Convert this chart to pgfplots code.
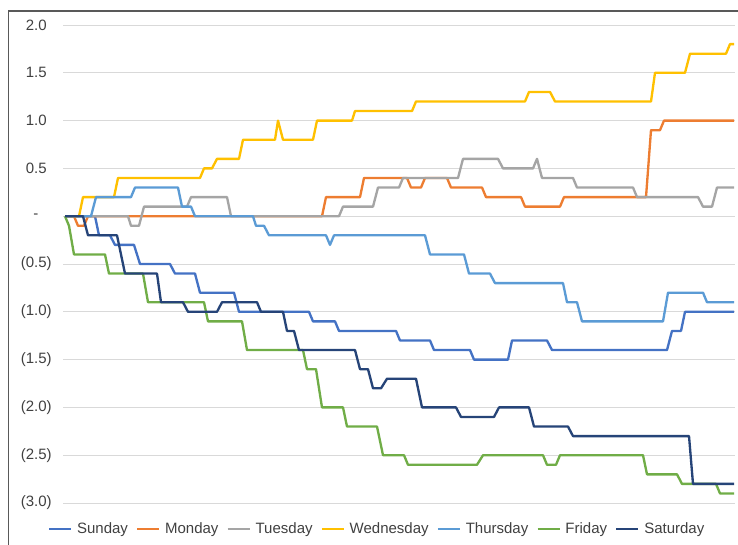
\documentclass[border=0pt]{standalone}
\usepackage{pgfplots}
\pgfplotsset{compat=1.18}
\usepackage{fontspec}
\setmainfont{Liberation Sans}

\definecolor{sunC}{HTML}{4472C4}
\definecolor{monC}{HTML}{ED7D31}
\definecolor{tueC}{HTML}{A5A5A5}
\definecolor{wedC}{HTML}{FFC000}
\definecolor{thuC}{HTML}{5B9BD5}
\definecolor{friC}{HTML}{70AD47}
\definecolor{satC}{HTML}{264478}
\definecolor{gridC}{HTML}{D9D9D9}
\definecolor{txtC}{HTML}{404040}
\definecolor{frameC}{HTML}{595959}

\begin{document}
\begin{tikzpicture}
\begin{axis}[
  at={(47.25pt,-377.25pt)}, anchor=south west,
  scale only axis, width=504pt, height=358.5pt,
  xmin=-2, xmax=670, ymin=-3, ymax=2,
  axis line style={draw=none},
  xtick=\empty,
  ytick={-3,-2.5,-2,-1.5,-1,-0.5,0,0.5,1,1.5,2},
  yticklabels={(3.0),(2.5),(2.0),(1.5),(1.0),(0.5),{-\hphantom{0)}},{0.5\hphantom{)}},{1.0\hphantom{)}},{1.5\hphantom{)}},{2.0\hphantom{)}}},
  ymajorgrids,
  major grid style={color=gridC, line width=0.75pt},
  major tick length=0pt,
  tick style={draw=none},
  /pgf/number format/assume math mode=true,
  yticklabel style={anchor=east, inner sep=0pt, xshift=-8.25pt, text=txtC,
    font=\fontsize{11.25}{13.5}\selectfont},
  every axis plot/.append style={line width=1.75pt, line join=round, mark=none},
  legend columns=7,
  legend style={at={(0.466,-0.054)}, anchor=center, draw=none, fill=none,
    text=txtC, font=\fontsize{11.25}{13.5}\selectfont,
    nodes={inner sep=0pt},
    /tikz/every odd column/.append style={column sep=3.6pt},
    /tikz/every even column/.append style={column sep=6pt}},
  legend image code/.code={\draw[#1, line width=1.75pt] (0pt,0pt) -- (16.5pt,0pt);},
]
% Sunday
\addplot[sunC] coordinates {(0,0)(30,0)(34,-0.2)(45,-0.2)(50,-0.3)(69,-0.3)(75,-0.5)(105,-0.5)(110,-0.6)(130,-0.6)(135,-0.8)(169,-0.8)(174,-1.0)(244,-1.0)(248,-1.1)(270,-1.1)(274,-1.2)(331,-1.2)(335,-1.3)(365,-1.3)(369,-1.4)(405,-1.4)(409,-1.5)(443,-1.5)(447,-1.3)(482,-1.3)(487,-1.4)(602,-1.4)(607,-1.2)(616,-1.2)(620,-1.0)(669,-1.0)};
\addlegendentry{Sunday}
% Monday
\addplot[monC] coordinates {(0,0)(9,0)(13,-0.1)(19,-0.1)(23,0)(257,0)(261,0.2)(295,0.2)(299,0.4)(342,0.4)(346,0.3)(356,0.3)(360,0.4)(382,0.4)(386,0.3)(417,0.3)(421,0.2)(456,0.2)(460,0.1)(495,0.1)(499,0.2)(581,0.2)(586,0.9)(595,0.9)(599,1.0)(669,1.0)};
\addlegendentry{Monday}
% Tuesday
\addplot[tueC] coordinates {(0,0)(63,0)(66,-0.1)(74,-0.1)(79,0.1)(122,0.1)(126,0.2)(162,0.2)(166,0)(274,0)(278,0.1)(308,0.1)(313,0.3)(334,0.3)(338,0.4)(393,0.4)(398,0.6)(433,0.6)(438,0.5)(468,0.5)(472,0.6)(477,0.4)(508,0.4)(512,0.3)(568,0.3)(572,0.2)(633,0.2)(638,0.1)(647,0.1)(652,0.3)(669,0.3)};
\addlegendentry{Tuesday}
% Wednesday
\addplot[wedC] coordinates {(0,0)(14,0)(18,0.2)(49,0.2)(53,0.4)(135,0.4)(139,0.5)(147,0.5)(152,0.6)(174,0.6)(178,0.8)(210,0.8)(213,1.0)(218,0.8)(248,0.8)(252,1.0)(287,1.0)(290,1.1)(347,1.1)(351,1.2)(460,1.2)(464,1.3)(485,1.3)(490,1.2)(586,1.2)(590,1.5)(620,1.5)(625,1.7)(661,1.7)(665,1.8)(669,1.8)};
\addlegendentry{Wednesday}
% Thursday
\addplot[thuC] coordinates {(0,0)(26,0)(31,0.2)(66,0.2)(70,0.3)(113,0.3)(117,0.1)(126,0.1)(130,0)(188,0)(191,-0.1)(199,-0.1)(204,-0.2)(261,-0.2)(265,-0.3)(269,-0.2)(360,-0.2)(365,-0.4)(399,-0.4)(404,-0.6)(425,-0.6)(430,-0.7)(498,-0.7)(502,-0.9)(512,-0.9)(517,-1.1)(598,-1.1)(603,-0.8)(638,-0.8)(642,-0.9)(669,-0.9)};
\addlegendentry{Thursday}
% Friday
\addplot[friC] coordinates {(0,0)(4,-0.1)(9,-0.4)(40,-0.4)(44,-0.6)(78,-0.6)(83,-0.9)(139,-0.9)(143,-1.1)(177,-1.1)(182,-1.4)(238,-1.4)(242,-1.6)(251,-1.6)(257,-2.0)(278,-2.0)(282,-2.2)(312,-2.2)(318,-2.5)(339,-2.5)(343,-2.6)(412,-2.6)(418,-2.5)(478,-2.5)(482,-2.6)(491,-2.6)(495,-2.5)(578,-2.5)(582,-2.7)(612,-2.7)(617,-2.8)(651,-2.8)(655,-2.9)(669,-2.9)};
\addlegendentry{Friday}
% Saturday
\addplot[satC] coordinates {(0,0)(18,0)(23,-0.2)(52,-0.2)(60,-0.6)(92,-0.6)(96,-0.9)(118,-0.9)(123,-1.0)(152,-1.0)(157,-0.9)(192,-0.9)(196,-1.0)(218,-1.0)(222,-1.2)(229,-1.2)(234,-1.4)(290,-1.4)(295,-1.6)(303,-1.6)(308,-1.8)(316,-1.8)(322,-1.7)(351,-1.7)(357,-2.0)(391,-2.0)(396,-2.1)(429,-2.1)(434,-2.0)(464,-2.0)(469,-2.2)(503,-2.2)(508,-2.3)(624,-2.3)(628,-2.8)(669,-2.8)};
\addlegendentry{Saturday}
\end{axis}
% chart area border, running past the right and bottom edges
\draw[frameC, line width=1.1pt] (6.2pt,-8.25pt) rectangle (700pt,-500pt);
\pgfresetboundingbox
\path (0pt,0pt) rectangle (553.5pt,-408pt);
\end{tikzpicture}
\end{document}
